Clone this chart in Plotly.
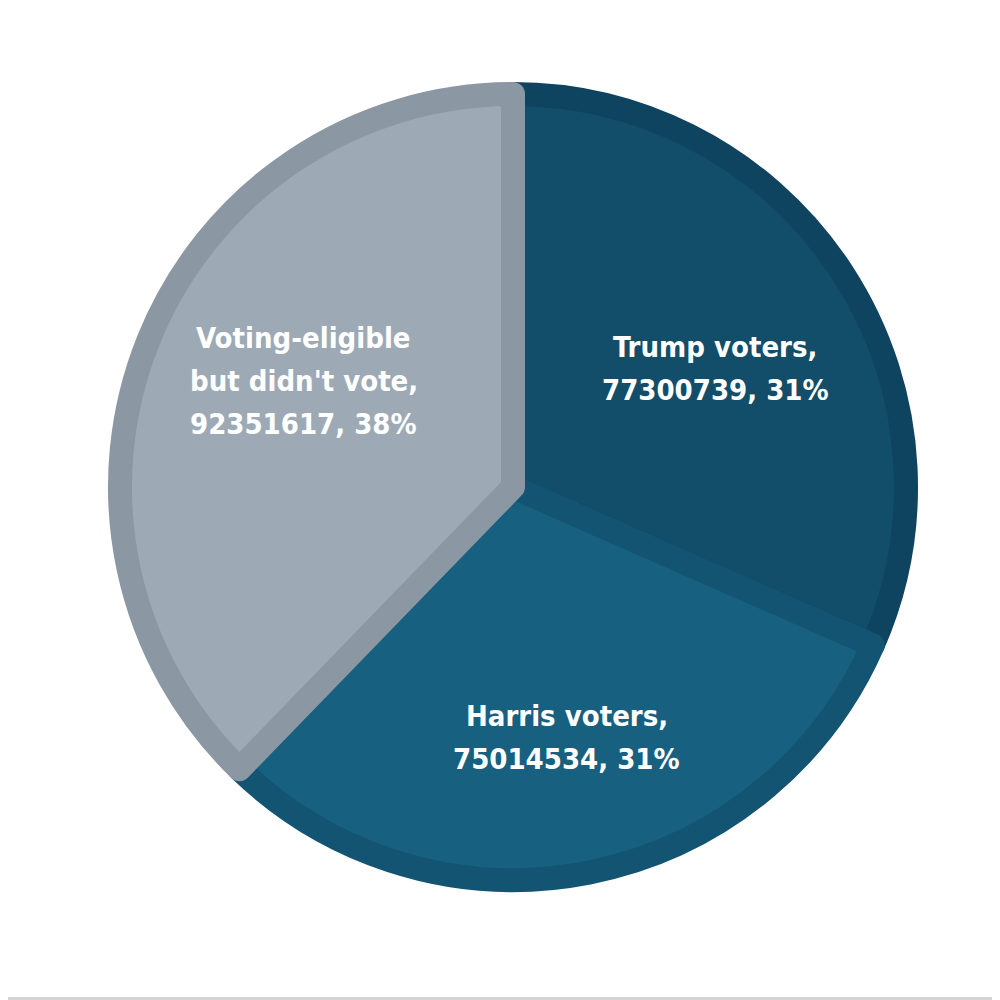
import math
import plotly.graph_objects as go

labels = ["Trump voters", "Harris voters", "Voting-eligible but didn't vote"]
label_lines = [["Trump voters,"], ["Harris voters,"], ["Voting-eligible", "but didn't vote,"]]
values = [77300739, 75014534, 92351617]
pct_labels = [31, 31, 38]
fill_colors = ["#124D6A", "#17607F", "#9DAAB6"]
border_colors = ["#0E4460", "#125471", "#8B97A3"]

# geometry (paper fractions / pixels)
LINE_W = 24
R_OUT = 0.405
R = R_OUT - LINE_W / 2 / 1000
cx, cy = 0.505, 0.521
LABEL_FRAC = 0.59
LINE_GAP = 43
label_nudge = [(2, -12), (8, -16), (12, 16)]  # fine placement in px (x, y-up)

fig = go.Figure(
    go.Pie(
        labels=labels,
        values=values,
        textinfo="none",
        sort=False,
        direction="clockwise",
        rotation=0,
        marker=dict(colors=fill_colors, line=dict(color=border_colors, width=LINE_W)),
        domain=dict(x=[cx - R, cx + R], y=[cy - R, cy + R]),
        showlegend=False,
        hoverinfo="label+value+percent",
    )
)

total = sum(values)
annotations = []
cum = 0.0
for lines, v, p, (nx, ny) in zip(label_lines, values, pct_labels, label_nudge):
    mid = (cum + v / 2) / total * 2 * math.pi
    cum += v
    ax = cx + LABEL_FRAC * R_OUT * math.sin(mid)
    ay = cy + LABEL_FRAC * R_OUT * math.cos(mid)
    all_lines = lines + [f"{v}, {p}%"]
    n = len(all_lines)
    for j, ln in enumerate(all_lines):
        annotations.append(
            dict(
                x=ax, y=ay, xref="paper", yref="paper", text=ln, showarrow=False,
                xanchor="center", yanchor="middle", align="center",
                xshift=nx, yshift=ny + ((n - 1) / 2 - j) * LINE_GAP,
                font=dict(color="white", size=29, family="DejaVu Sans Condensed, Roboto", weight="bold"),
            )
        )

fig.update_layout(
    width=1000,
    height=1000,
    margin=dict(l=0, r=0, t=0, b=0),
    paper_bgcolor="white",
    plot_bgcolor="white",
    annotations=annotations,
    shapes=[
        dict(type="line", xref="paper", yref="paper", x0=0, x1=1, y0=0.0095, y1=0.0095,
             line=dict(color="#D4D4D4", width=3))
    ],
)

fig.write_html("out.html")
